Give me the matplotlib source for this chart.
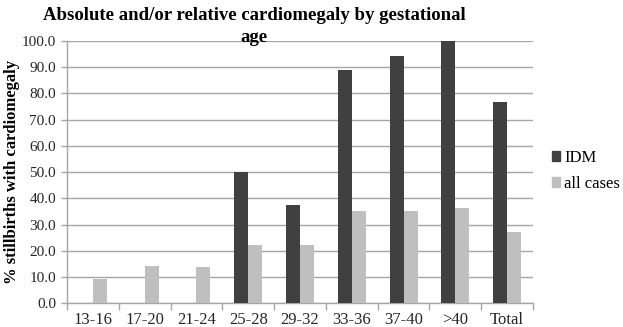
import numpy as np
import matplotlib
matplotlib.use('Agg')
import matplotlib.pyplot as plt
from matplotlib.patches import Patch

# data
categories = ['13-16', '17-20', '21-24', '25-28', '29-32', '33-36', '37-40', '>40', 'Total']
idm = [0, 0, 0, 50.0, 37.5, 88.9, 94.4, 100.0, 76.9]
all_cases = [9.1, 14.3, 13.9, 22.2, 22.2, 35.3, 35.3, 36.4, 27.0]
yticks = np.arange(0, 101, 10)

plt.rcParams['font.family'] = ['Liberation Serif', 'DejaVu Serif']

dark = '#404040'
light = '#bfbfbf'
grid_c = '#a6a6a6'

fig = plt.figure(figsize=(6.23, 3.27), dpi=100)
ax = fig.add_axes([67/623, (327-303.3)/327, (533-67)/623, (303.3-41)/327])

x = np.arange(len(categories))
w = 0.27
ax.bar(x - w/2, idm, width=w, color=dark, zorder=3, label='IDM')
ax.bar(x + w/2, all_cases, width=w, color=light, zorder=3, label='all cases')

ax.set_xlim(-0.5, len(categories) - 0.5)
ax.set_ylim(0, 100)
ax.set_yticks(yticks)
ax.set_yticklabels(['%.1f' % v for v in yticks], fontsize=11, color='#262626')
ax.yaxis.grid(True, color=grid_c, linewidth=1, zorder=0)

ax.set_xticks(x)
ax.set_xticklabels(categories, fontsize=12, color='#262626')
ax.tick_params(axis='x', length=0, pad=6)
ax.set_xticks(np.arange(-0.5, len(categories)), minor=True)
ax.tick_params(axis='x', which='minor', length=5, color=grid_c, width=1)
ax.tick_params(axis='y', length=4, color=grid_c, width=1, pad=4)

for s in ['top', 'right']:
    ax.spines[s].set_visible(False)
for s in ['left', 'bottom']:
    ax.spines[s].set_color(grid_c)
    ax.spines[s].set_linewidth(1)

ax.set_ylabel('% stillbirths with cardiomegaly', fontsize=12, fontweight='bold')
ax.yaxis.label.set_va('center')
ax.yaxis.set_label_coords(-55/466, 0.5)

fig.text(254/623, 1 - 15/327, 'Absolute and/or relative cardiomegaly by gestational',
         ha='center', va='center', fontsize=13.5, fontweight='bold')
fig.text(254/623, 1 - 37/327, 'age', ha='center', va='center', fontsize=13.5, fontweight='bold')

handles = [Patch(color=dark, label='IDM'), Patch(color=light, label='all cases')]
fig.legend(handles=handles, loc='upper left', bbox_to_anchor=(537/623, 1 - 135/327),
           frameon=False, fontsize=12, handlelength=0.5, handleheight=0.5,
           handletextpad=0.25, labelspacing=0.6)

fig.savefig('out.png', dpi=100)
